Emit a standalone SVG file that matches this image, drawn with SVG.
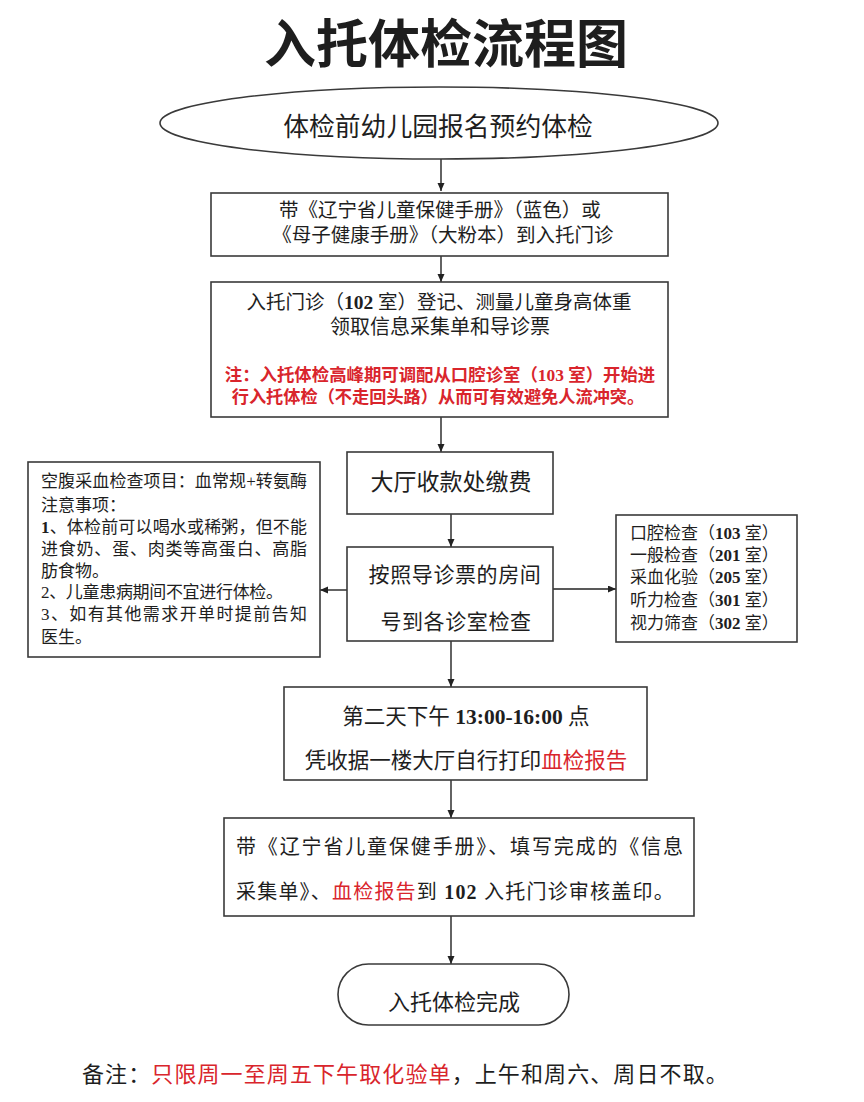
<svg xmlns="http://www.w3.org/2000/svg" width="864" height="1102" viewBox="0 0 864 1102">
<style>
text{font-family:"Liberation Serif","Noto Sans CJK SC",serif;fill:#1e1e1e;}
.shape{fill:#fff;stroke:#3a3a3a;stroke-width:1.6;}
.c{text-anchor:middle;}
.red{fill:#d9252c;}
.b{font-weight:bold;}
.conn{stroke:#222;stroke-width:1.4;fill:none;marker-end:url(#arr);}
</style>
<defs>
<marker id="arr" markerUnits="userSpaceOnUse" markerWidth="9" markerHeight="8" refX="8" refY="3.5" orient="auto">
<path d="M0,0 L8,3.5 L0,7 z" fill="#222"/>
</marker>
</defs>
<rect width="864" height="1102" fill="#fff"/>
<text x="446" y="63" class="c b" font-size="52">入托体检流程图</text>

<g id="connectors">
<path class="conn" d="M441 159 V191"/>
<path class="conn" d="M441 256 V282"/>
<path class="conn" d="M441 417 V452"/>
<path class="conn" d="M451 514 V547"/>
<path class="conn" d="M347 590 H320"/>
<path class="conn" d="M553 589 H616"/>
<path class="conn" d="M451 641 V687"/>
<path class="conn" d="M451 780 V818"/>
<path class="conn" d="M451 916 V964"/>
</g>

<g id="start">
<ellipse class="shape" cx="439" cy="123" rx="279" ry="36"/>
<text x="438" y="136" class="c" font-size="25.8">体检前幼儿园报名预约体检</text>
</g>

<g id="bring-handbook">
<rect class="shape" x="211" y="193" width="457" height="63"/>
<text x="440" y="217" class="c" font-size="19.5">带《辽宁省儿童保健手册》（蓝色）或</text>
<text x="443" y="242" class="c" font-size="19.5">《母子健康手册》（大粉本）到入托门诊</text>
</g>

<g id="register">
<rect class="shape" x="211" y="282" width="457" height="135"/>
<text x="439" y="309" class="c" font-size="19.5">入托门诊（<tspan class="b">102</tspan> 室）登记、测量儿童身高体重</text>
<text x="440" y="334" class="c" font-size="20">领取信息采集单和导诊票</text>
<text x="440" y="381" class="c red b" font-size="17.4">注：入托体检高峰期可调配从口腔诊室（103 室）开始进</text>
<text x="438" y="403" class="c red b" font-size="17.2">行入托体检（不走回头路）从而可有效避免人流冲突。</text>
</g>

<g id="pay">
<rect class="shape" x="347" y="452" width="206" height="62"/>
<text x="451" y="490" class="c" font-size="23">大厅收款处缴费</text>
</g>

<g id="rooms">
<rect class="shape" x="347" y="547" width="206" height="94"/>
<text x="455" y="582" class="c" font-size="21" letter-spacing="0.6">按照导诊票的房间</text>
<text x="456" y="629" class="c" font-size="21" letter-spacing="0.6">号到各诊室检查</text>
</g>

<g id="notes">
<rect class="shape" x="28" y="462" width="292" height="195"/>
<text x="41" y="487" font-size="17" textLength="266" lengthAdjust="spacing">空腹采血检查项目：血常规+转氨酶</text>
<text x="41" y="511" font-size="17">注意事项：</text>
<text x="41" y="533" font-size="17" textLength="266" lengthAdjust="spacing"><tspan class="b">1</tspan>、体检前可以喝水或稀粥，但不能</text>
<text x="41" y="555" font-size="17" textLength="266" lengthAdjust="spacing">进食奶、蛋、肉类等高蛋白、高脂</text>
<text x="41" y="577" font-size="17">肪食物。</text>
<text x="41" y="598" font-size="17" textLength="242" lengthAdjust="spacing">2、儿童患病期间不宜进行体检。</text>
<text x="41" y="620" font-size="17" textLength="266" lengthAdjust="spacing">3、如有其他需求开单时提前告知</text>
<text x="41" y="643" font-size="17">医生。</text>
</g>

<g id="room-list">
<rect class="shape" x="616" y="515" width="181" height="127"/>
<text x="630" y="539" font-size="17">口腔检查（<tspan class="b">103</tspan> 室）</text>
<text x="630" y="561" font-size="17">一般检查（<tspan class="b">201</tspan> 室）</text>
<text x="630" y="583" font-size="17">采血化验（<tspan class="b">205</tspan> 室）</text>
<text x="630" y="606" font-size="17">听力检查（<tspan class="b">301</tspan> 室）</text>
<text x="630" y="629" font-size="17">视力筛查（<tspan class="b">302</tspan> 室）</text>
</g>

<g id="print-report">
<rect class="shape" x="284" y="687" width="363" height="93"/>
<text x="466" y="724" class="c" font-size="21.5">第二天下午 <tspan class="b">13:00-16:00</tspan> 点</text>
<text x="466" y="768" class="c" font-size="21.5">凭收据一楼大厅自行打印<tspan class="red">血检报告</tspan></text>
</g>

<g id="stamp">
<rect class="shape" x="224" y="818" width="470" height="98"/>
<text x="236" y="854" font-size="20" textLength="447" lengthAdjust="spacing">带《辽宁省儿童保健手册》、填写完成的《信息</text>
<text x="236" y="899" font-size="20" letter-spacing="1.2">采集单》、<tspan class="red">血检报告</tspan>到 <tspan class="b">102</tspan> 入托门诊审核盖印。</text>
</g>

<g id="end">
<rect class="shape" x="338" y="964" width="231" height="61" rx="30.5"/>
<text x="454" y="1010" class="c" font-size="22">入托体检完成</text>
</g>

<text x="82" y="1082" font-size="22" letter-spacing="1.1">备注：<tspan class="red">只限周一至周五下午取化验单</tspan>，上午和周六、周日不取。</text>
</svg>
